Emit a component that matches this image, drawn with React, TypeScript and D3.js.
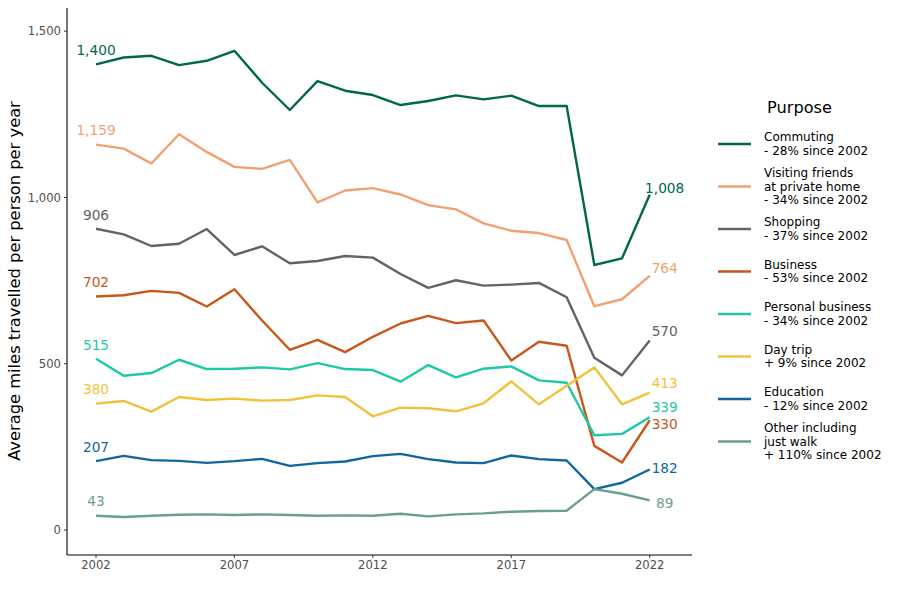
import React from "react";
import * as d3 from "d3";

const years = d3.range(2002, 2023);

const purposes = [
  "Commuting",
  "Visiting friends at private home",
  "Shopping",
  "Business",
  "Personal business",
  "Day trip",
  "Education",
  "Other including just walk",
];

const commuting = [1400, 1421, 1426, 1398, 1411, 1441, 1345, 1263, 1350, 1321, 1308, 1278, 1290, 1307, 1295, 1306, 1275, 1275, 797, 817, 1008];
const visiting = [1159, 1147, 1102, 1190, 1137, 1092, 1086, 1113, 985, 1021, 1028, 1009, 977, 964, 922, 900, 893, 872, 673, 694, 764];
const shopping = [906, 889, 854, 861, 905, 827, 853, 802, 809, 824, 819, 770, 728, 751, 735, 738, 743, 700, 518, 465, 570];
const business = [702, 706, 719, 713, 672, 724, 630, 542, 572, 535, 581, 621, 644, 622, 630, 510, 566, 554, 253, 203, 330];
const personalBusiness = [515, 464, 472, 512, 484, 485, 489, 483, 502, 484, 481, 446, 496, 459, 485, 492, 450, 443, 285, 289, 339];
const dayTrip = [380, 388, 356, 400, 391, 395, 389, 391, 405, 400, 342, 368, 366, 357, 381, 447, 378, 434, 489, 378, 413];
const education = [207, 223, 210, 208, 202, 207, 214, 193, 201, 206, 222, 229, 213, 203, 201, 224, 213, 209, 123, 142, 182];
const other = [43, 39, 43, 46, 47, 45, 47, 45, 43, 44, 43, 49, 41, 47, 50, 55, 57, 58, 123, 109, 89];

const seriesValues = [commuting, visiting, shopping, business, personalBusiness, dayTrip, education, other];

const legendLabels = [
  ["Commuting", "- 28% since 2002"],
  ["Visiting friends", "at private home", "- 34% since 2002"],
  ["Shopping", "- 37% since 2002"],
  ["Business", "- 53% since 2002"],
  ["Personal business", "- 34% since 2002"],
  ["Day trip", "+ 9% since 2002"],
  ["Education", "- 12% since 2002"],
  ["Other including", "just walk", "+ 110% since 2002"],
];

const colors = ["#00674f", "#f2a070", "#636363", "#c9561a", "#1fc8a5", "#f2c13b", "#11669f", "#6a9e95"];

const yTicks = [0, 500, 1000, 1500];
const xTicks = [2002, 2007, 2012, 2017, 2022];

// vertical nudges (px) for end-of-line labels, in series order
const endNudge = [-7, -8, -9, 4, -10, -9, -1, 3];

const fmt = d3.format(",");

export default function App() {
  const x = d3.scaleLinear().domain([2002, 2022]).range([96, 649.7]);
  const y = d3.scaleLinear().domain([0, 1500]).range([530, 31.2]);
  const line = d3
    .line<number>()
    .x((_, i) => x(years[i]))
    .y((d) => y(d));

  const axisLeft = 67;
  const axisBottom = 555;
  const axisTop = 8;
  const axisRight = 692;
  const font = "'DejaVu Sans', Verdana, sans-serif";

  const legendX = 718;
  const legendY0 = 144;
  const legendStep = 42.5;
  const lineH = 13.5;

  return (
    <svg
      width={900}
      height={599}
      style={{ position: "absolute", left: 0, top: 0, background: "#fff" }}
      fontFamily={font}
    >
      <rect width={900} height={599} fill="#fff" />
      {/* axes */}
      <line x1={axisLeft} x2={axisLeft} y1={axisTop} y2={axisBottom} stroke="#000" strokeWidth={1.1} />
      <line x1={axisLeft} x2={axisRight} y1={axisBottom} y2={axisBottom} stroke="#000" strokeWidth={1.1} />
      {yTicks.map((t) => (
        <g key={"y" + t}>
          <line x1={axisLeft - 3} x2={axisLeft} y1={y(t)} y2={y(t)} stroke="#333" strokeWidth={1} />
          <text x={axisLeft - 6} y={y(t)} dy="0.35em" textAnchor="end" fontSize={11.6} fill="#4d4d4d">
            {fmt(t)}
          </text>
        </g>
      ))}
      {xTicks.map((t) => (
        <g key={"x" + t}>
          <line x1={x(t)} x2={x(t)} y1={axisBottom} y2={axisBottom + 3} stroke="#333" strokeWidth={1} />
          <text x={x(t)} y={axisBottom + 13.5} textAnchor="middle" fontSize={11.6} fill="#4d4d4d">
            {t}
          </text>
        </g>
      ))}
      <text
        transform={`translate(20,281) rotate(-90)`}
        textAnchor="middle"
        fontSize={16.3}
        fill="#000"
      >
        Average miles travelled per person per year
      </text>

      {/* lines */}
      {seriesValues.map((vals, i) => (
        <path key={purposes[i]} d={line(vals) || ""} fill="none" stroke={colors[i]} strokeWidth={2.4} strokeLinejoin="round" />
      ))}

      {/* start labels */}
      {seriesValues.map((vals, i) => (
        <text
          key={"s" + i}
          x={x(years[0])}
          y={y(vals[0]) - 14}
          dy="0.35em"
          textAnchor="middle"
          fontSize={13.7}
          fill={colors[i]}
        >
          {fmt(vals[0])}
        </text>
      ))}

      {/* end labels */}
      {seriesValues.map((vals, i) => (
        <text
          key={"e" + i}
          x={x(years[years.length - 1]) + 15}
          y={y(vals[vals.length - 1]) + endNudge[i]}
          dy="0.35em"
          textAnchor="middle"
          fontSize={13.7}
          fill={colors[i]}
        >
          {fmt(vals[vals.length - 1])}
        </text>
      ))}

      {/* legend */}
      <text x={767} y={107} dy="0.35em" fontSize={16.2} fill="#000">
        Purpose
      </text>
      {legendLabels.map((lines, i) => {
        const cy = legendY0 + i * legendStep;
        const top = cy - ((lines.length - 1) * lineH) / 2;
        return (
          <g key={"l" + i}>
            <line x1={legendX} x2={legendX + 33} y1={cy} y2={cy} stroke={colors[i]} strokeWidth={2.6} />
            {lines.map((s, j) => (
              <text key={j} x={764} y={top + j * lineH} dy="0.35em" fontSize={12} fill="#000">
                {s}
              </text>
            ))}
          </g>
        );
      })}
    </svg>
  );
}
